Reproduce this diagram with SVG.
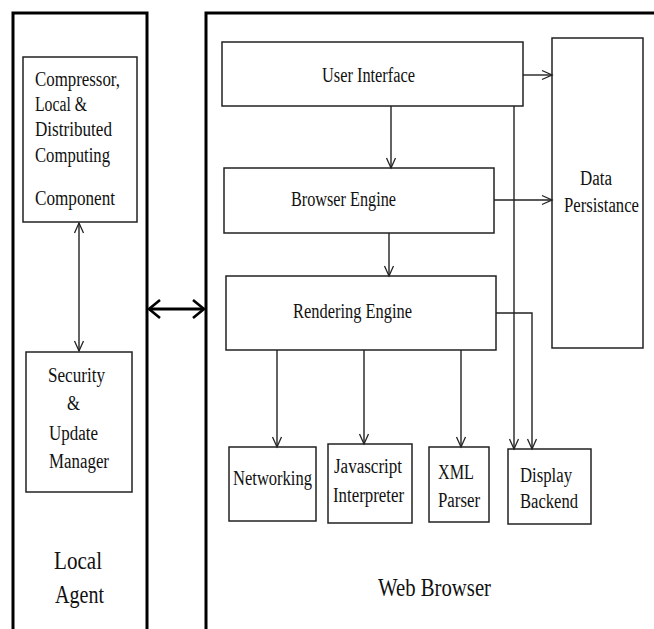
<svg xmlns="http://www.w3.org/2000/svg" width="654" height="629" viewBox="0 0 654 629">
<style>
.panel{fill:none;stroke:#000;stroke-width:3}
.box{fill:#fff;stroke:#222;stroke-width:1.5}
.t{font-family:"Liberation Serif","Times New Roman",serif;font-size:20px;fill:#111}
.big{font-family:"Liberation Serif","Times New Roman",serif;font-size:26px;fill:#111}
.c{fill:none;stroke:#222;stroke-width:1.4}
.thick{fill:none;stroke:#000;stroke-width:3}
</style>
<defs>
<marker id="arr" markerUnits="userSpaceOnUse" markerWidth="12" markerHeight="12" refX="10" refY="4.5" orient="auto-start-reverse" overflow="visible">
<path d="M0,0 L10,4.5 L0,9" fill="none" stroke="#222" stroke-width="1.3"/>
</marker>
<marker id="arrBig" markerUnits="userSpaceOnUse" markerWidth="14" markerHeight="20" refX="11" refY="9" orient="auto-start-reverse" overflow="visible">
<path d="M0,0 L11,9 L0,18" fill="none" stroke="#000" stroke-width="2.6"/>
</marker>
</defs>

<g id="local-agent">
<path class="panel" d="M13,629 V13 H147 V629"/>
<text class="big" x="54" y="569" textLength="48" lengthAdjust="spacingAndGlyphs">Local</text>
<text class="big" x="55" y="603" textLength="49" lengthAdjust="spacingAndGlyphs">Agent</text>
</g>

<g id="web-browser">
<path class="panel" d="M206,629 V13 H654"/>
<text class="big" x="378" y="596" textLength="113" lengthAdjust="spacingAndGlyphs">Web Browser</text>
</g>

<g id="compressor">
<rect class="box" x="23" y="57" width="114" height="165"/>
<text class="t" x="35" y="86" textLength="85" lengthAdjust="spacingAndGlyphs">Compressor,</text>
<text class="t" x="35" y="111" textLength="52" lengthAdjust="spacingAndGlyphs">Local &amp;</text>
<text class="t" x="35" y="136" textLength="77" lengthAdjust="spacingAndGlyphs">Distributed</text>
<text class="t" x="35" y="162" textLength="75" lengthAdjust="spacingAndGlyphs">Computing</text>
<text class="t" x="35" y="205" textLength="80" lengthAdjust="spacingAndGlyphs">Component</text>
</g>

<g id="security">
<rect class="box" x="26" y="352" width="106" height="140"/>
<text class="t" x="48" y="382" textLength="57" lengthAdjust="spacingAndGlyphs">Security</text>
<text class="t" x="67" y="410" textLength="13" lengthAdjust="spacingAndGlyphs">&amp;</text>
<text class="t" x="49" y="440" textLength="49" lengthAdjust="spacingAndGlyphs">Update</text>
<text class="t" x="49" y="468" textLength="60" lengthAdjust="spacingAndGlyphs">Manager</text>
</g>

<g id="user-interface">
<rect class="box" x="222" y="42" width="301" height="64"/>
<text class="t" x="322" y="82" textLength="93" lengthAdjust="spacingAndGlyphs">User Interface</text>
</g>

<g id="browser-engine">
<rect class="box" x="224" y="168" width="270" height="65"/>
<text class="t" x="291" y="206" textLength="105" lengthAdjust="spacingAndGlyphs">Browser Engine</text>
</g>

<g id="rendering-engine">
<rect class="box" x="226" y="276" width="270" height="74"/>
<text class="t" x="293" y="318" textLength="119" lengthAdjust="spacingAndGlyphs">Rendering Engine</text>
</g>

<g id="data-persistance">
<rect class="box" x="552" y="38" width="91" height="310"/>
<text class="t" x="580" y="185" textLength="32" lengthAdjust="spacingAndGlyphs">Data</text>
<text class="t" x="564" y="212" textLength="75" lengthAdjust="spacingAndGlyphs">Persistance</text>
</g>

<g id="networking">
<rect class="box" x="229" y="447" width="87" height="74"/>
<text class="t" x="233" y="485" textLength="79" lengthAdjust="spacingAndGlyphs">Networking</text>
</g>

<g id="javascript">
<rect class="box" x="328" y="444" width="84" height="79"/>
<text class="t" x="334" y="473" textLength="68" lengthAdjust="spacingAndGlyphs">Javascript</text>
<text class="t" x="333" y="502" textLength="71" lengthAdjust="spacingAndGlyphs">Interpreter</text>
</g>

<g id="xml-parser">
<rect class="box" x="429" y="447" width="60" height="75"/>
<text class="t" x="438" y="479" textLength="36" lengthAdjust="spacingAndGlyphs">XML</text>
<text class="t" x="438" y="507" textLength="42" lengthAdjust="spacingAndGlyphs">Parser</text>
</g>

<g id="display-backend">
<rect class="box" x="508" y="449" width="83" height="75"/>
<text class="t" x="520" y="482" textLength="52" lengthAdjust="spacingAndGlyphs">Display</text>
<text class="t" x="520" y="508" textLength="58" lengthAdjust="spacingAndGlyphs">Backend</text>
</g>

<g id="connectors">
<path class="thick" d="M149,309 H204" marker-start="url(#arrBig)" marker-end="url(#arrBig)"/>
<path class="c" d="M79,223 V351" marker-start="url(#arr)" marker-end="url(#arr)"/>
<path class="c" d="M391,106 V168" marker-end="url(#arr)"/>
<path class="c" d="M523,75 H552" marker-end="url(#arr)"/>
<path class="c" d="M494,200 H552" marker-end="url(#arr)"/>
<path class="c" d="M514,106 V449" marker-end="url(#arr)"/>
<path class="c" d="M389,233 V276" marker-end="url(#arr)"/>
<path class="c" d="M496,313 H532 V449" marker-end="url(#arr)"/>
<path class="c" d="M277,350 V447" marker-end="url(#arr)"/>
<path class="c" d="M364,350 V444" marker-end="url(#arr)"/>
<path class="c" d="M461,350 V447" marker-end="url(#arr)"/>
</g>
</svg>
